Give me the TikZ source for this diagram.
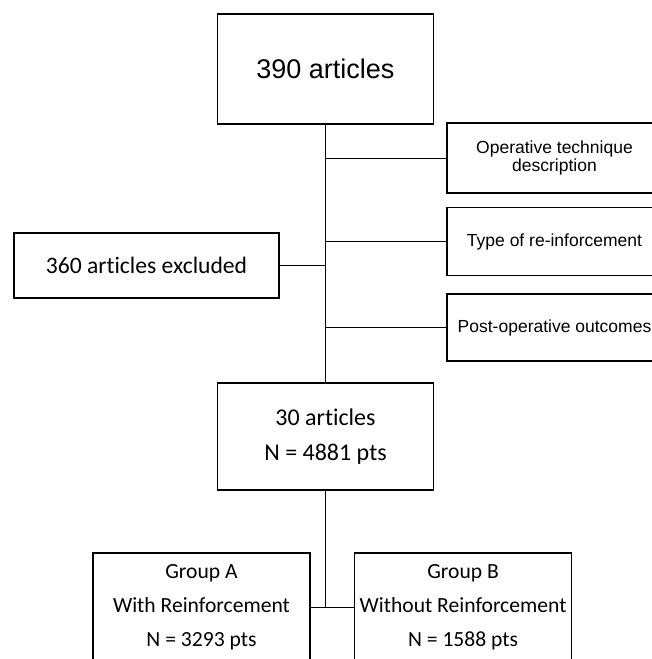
\documentclass[tikz,border=0pt]{standalone}
\usepackage{fontspec}
\newfontfamily\arialfont{Liberation Sans}
\newfontfamily\calibrifont[Ligatures=NoCommon]{Carlito}
\usepackage{tikz}
\usetikzlibrary{positioning}

\begin{document}
\begin{tikzpicture}[
    x = 1pt, y = -1pt,
    node distance = 13pt]
    \tikzstyle{every node}=[draw,rectangle,line width=1.6pt,inner sep=0pt,align=center]
    \tikzstyle{wire}=[line width=0.8pt]
    \tikzstyle{crit}=[minimum width=215pt,font=\arialfont\fontsize{17.5}{18}\selectfont]
    \tikzstyle{group}=[minimum width=217pt,minimum height=108pt,font=\calibrifont\fontsize{21.6}{34}\selectfont]
    \useasboundingbox (0,0) rectangle (652,659);
    \node[minimum width=216pt,minimum height=110pt,font=\arialfont\fontsize{27}{32}\selectfont]
      (all) at (325.5,69) {390 articles} ;
    % criteria on the right
    \node[crit,minimum height=70pt] (crit1) at (554.5,158) {Operative technique\\description} ;
    \node[crit,minimum height=68pt] (crit2) [below=of crit1] {Type of re-inforcement} ;
    \node[crit,minimum height=67pt] (crit3) [below=17pt of crit2] {Post-operative outcomes} ;
    \node[minimum width=265pt,minimum height=65pt,font=\calibrifont\fontsize{23.6}{28}\selectfont]
      (excl) at (146.5,265.5) {360 articles excluded} ;
    \node[minimum width=216pt,minimum height=107pt,font=\calibrifont\fontsize{24}{35}\selectfont]
      (incl) at (325.5,436.5) {30 articles\\N = 4881 pts} ;
    \node[group] (grpA) at (201.5,607) {Group A\\With Reinforcement\\N = 3293 pts} ;
    \node[group] (grpB) [right=43pt of grpA] {Group B\\Without Reinforcement\\N = 1588 pts} ;
    \draw[wire]
    (all) -- (incl)
    (crit1.west -| all.south) -- (crit1.west)
    (crit2.west -| all.south) -- (crit2.west)
    (crit3.west -| all.south) -- (crit3.west)
    (excl.east) -- (excl.east -| all.south)
    (incl) -- (incl |- grpA.east)
    (grpA) -- (grpB) ;
  \end{tikzpicture}
\end{document}
